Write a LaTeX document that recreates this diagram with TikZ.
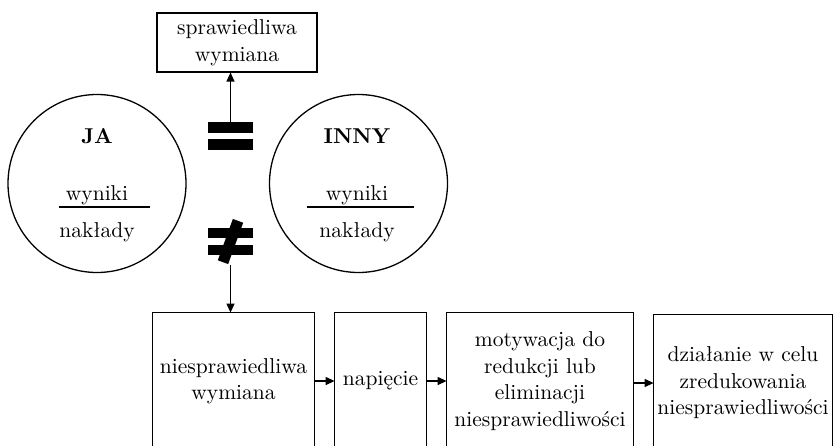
\documentclass[tikz,border=0pt]{standalone}
\usetikzlibrary{arrows.meta}
\begin{document}
\begin{tikzpicture}[x=0.5pt,y=-0.5pt,
  txt/.style={font=\fontsize{10.75}{13.25}\selectfont, align=center, inner sep=0pt},
  bold/.style={txt, font=\fontsize{10.75}{13.25}\selectfont\bfseries},
  arr/.style={-{Triangle[length=4.5pt,width=4pt]}, line width=0.6pt},
  box/.style={draw, line width=0.55pt},
  ring/.style={circle, draw, line width=0.65pt, minimum size=89pt, inner sep=0pt},
  ghost/.style={txt, minimum height=68pt},
  sym/.style={inner sep=0pt, minimum width=22.5pt, minimum height=13.5pt},
  bar/.style={fill=black},
  frac/.style={line width=0.75pt}]
\useasboundingbox (0,0) rectangle (834,445);

% top box
\node[txt, box, minimum width=80pt, minimum height=29.5pt] (fair) at (237,42.5) {sprawiedliwa\\wymiana};

% circles
\node[ring] (ja) at (97,183.5) {};
\node[ring] (inny) at (358.5,183.5) {};

\node[bold, anchor=base] (jaT) at (97,143) {JA};
\node[txt, anchor=base] (jaW) at (97,200) {wyniki};
\node[txt, anchor=base] (jaN) at (97,237) {nakłady};
\coordinate (jaL1) at (59,207);
\coordinate (jaL2) at (150,207);
\draw[frac] (jaL1) -- (jaL2);

\node[bold, anchor=base] (innyT) at (357,143) {INNY};
\node[txt, anchor=base] (innyW) at (357,200) {wyniki};
\node[txt, anchor=base] (innyN) at (357,237) {nakłady};
\coordinate (innyL1) at (307,207);
\coordinate (innyL2) at (414,207);
\draw[frac] (innyL1) -- (innyL2);

% equals sign
\node[sym] (eq) at (230.5,136) {};
\fill[bar] (eq.north west) rectangle ++(45,10.5);
\fill[bar] (eq.south west) rectangle ++(45,-10.5);

% not-equal sign
\node[sym] (neq) at (230.5,241.5) {};
\fill[bar] (neq.north west) rectangle ++(45,10.5);
\fill[bar] (neq.south west) rectangle ++(45,-10.5);
\fill[bar, rotate around={-20:(neq.center)}] ([xshift=-2.75pt,yshift=-11pt]neq.center) rectangle ([xshift=2.75pt,yshift=11pt]neq.center);

% bottom boxes (open at the bottom)
\node[ghost, minimum width=80.5pt] (b1) at (233.5,381) {niesprawiedliwa\\wymiana};
\node[ghost, minimum width=45.5pt] (b2) at (380.5,381) {napięcie};
\node[ghost, minimum width=93pt] (b3) at (540,381) {motywacja do\\redukcji lub\\eliminacji\\niesprawiedliwości};
\node[ghost, minimum width=89pt] (b4) at (743,383) {działanie w celu\\zredukowania\\niesprawiedliwości};

\foreach \b in {b1,b2,b3,b4}
  \draw[line width=0.55pt] (\b.south west) -- (\b.north west) -- (\b.north east) -- (\b.south east);

% connectors
\draw[arr] (eq.north) -- (eq.north |- fair.south);
\draw[arr] ([yshift=-5pt]neq.south) -- (b1.north -| neq.south);
\draw[arr] (b1.east |- 0,381) -- (b2.west |- 0,381);
\draw[arr] (b2.east |- 0,381) -- (b3.west |- 0,381);
\draw[arr] (b3.east |- 0,383) -- (b4.west |- 0,383);
\end{tikzpicture}
\end{document}
